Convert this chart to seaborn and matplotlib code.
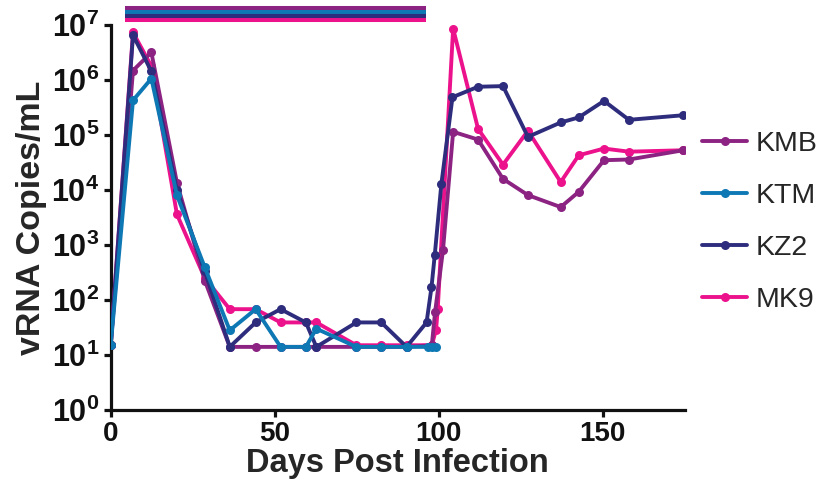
import pandas as pd
import matplotlib
matplotlib.use('Agg')
import matplotlib.pyplot as plt
import seaborn as sns

# ART window (days post infection)
art_start, art_end = 4.3, 96

animals = ['KMB', 'KTM', 'KZ2', 'MK9']
colors = {'KMB': '#8c2382', 'KTM': '#0e78b4', 'KZ2': '#2e2d7d', 'MK9': '#ec128c'}

kmb_days = [0, 6.8, 12.4, 20.2, 28.7, 36.3, 44.2, 51.8, 59.5, 62.7, 74.9, 82.5, 90.2,
            97.9, 98.9, 101.3, 104.4, 112, 119.6, 127.2, 137.2, 142.7, 150.4, 158, 174.5]
kmb_vl = [15, 1.5e6, 3.2e6, 1.35e4, 225, 14, 14, 14, 14, 14, 14, 14, 14, 15, 60, 800,
          1.15e5, 8.3e4, 1.6e4, 8.1e3, 4.9e3, 9.3e3, 3.5e4, 3.6e4, 5.3e4]

ktm_days = [0, 6.8, 12.4, 20.2, 28.7, 36.3, 44.2, 51.8, 59.5, 62.7, 74.9, 82.5, 90.2,
            96.7, 97.9, 99.3]
ktm_vl = [15, 4.3e5, 1.07e6, 8e3, 390, 28, 68, 14, 14, 30, 14, 14, 14, 14, 14, 14]

kz2_days = [0, 6.8, 12.4, 20.2, 28.7, 36.3, 44.2, 51.8, 59.5, 62.7, 74.9, 82.5, 90.2,
            96.3, 97.8, 98.8, 100.8, 104.2, 112, 119.6, 127.2, 137.2, 142.7, 150.4, 158, 174.5]
kz2_vl = [15, 6.6e6, 1.45e6, 1e4, 330, 14, 39, 68, 39, 14, 39, 39, 14, 39, 170, 660, 1.27e4,
          4.9e5, 7.6e5, 7.8e5, 9.3e4, 1.7e5, 2.1e5, 4.2e5, 1.9e5, 2.3e5]

mk9_days = [0, 6.8, 12.4, 20.2, 28.7, 36.3, 44.2, 51.8, 59.5, 62.7, 74.9, 82.5, 90.2,
            97.9, 99.2, 99.7, 104.4, 112, 119.6, 127.2, 137.2, 142.7, 150.4, 158, 174.5]
mk9_vl = [15, 7.4e6, 1.8e6, 3.6e3, 250, 68, 68, 39, 39, 39, 15, 15, 15, 15, 29, 68,
          8.7e6, 1.3e5, 2.9e4, 1.2e5, 1.4e4, 4.3e4, 5.7e4, 5e4, 5.3e4]

x_ticks = [0, 50, 100, 150]
y_exps = [0, 1, 2, 3, 4, 5, 6, 7]


def main():
    frames = []
    for name, d, v in [('KMB', kmb_days, kmb_vl), ('KTM', ktm_days, ktm_vl),
                       ('KZ2', kz2_days, kz2_vl), ('MK9', mk9_days, mk9_vl)]:
        frames.append(pd.DataFrame({'day': d, 'vl': v, 'animal': name}))
    df = pd.concat(frames, ignore_index=True)

    sns.set_style('ticks')
    plt.rcParams['font.family'] = ['Liberation Sans', 'DejaVu Sans']
    plt.rcParams['mathtext.fontset'] = 'custom'
    plt.rcParams['mathtext.rm'] = 'Liberation Sans'
    plt.rcParams['mathtext.bf'] = 'Liberation Sans:bold'

    fig = plt.figure(figsize=(8.2, 4.95), dpi=100)
    ax = fig.add_axes([0.135, 0.172, 0.7, 0.777])

    # draw order so the blue line sits on top
    for z, name in enumerate(['MK9', 'KMB', 'KZ2', 'KTM']):
        sub = df[df['animal'] == name]
        sns.lineplot(data=sub, x='day', y='vl', ax=ax, color=colors[name],
                     marker='o', markersize=6.5, markeredgewidth=0, lw=2.8,
                     estimator=None, sort=False, label=name, zorder=3 + z)

    ax.set_yscale('log')
    ax.set_xlim(0, 175)
    ax.set_ylim(1, 1e7)
    ax.set_xticks(x_ticks)
    ax.set_xticklabels([str(t) for t in x_ticks], fontsize=20, fontweight='bold')
    ax.set_yticks([10.0 ** e for e in y_exps])
    ax.set_yticklabels([r'$\mathbf{10^{%d}}$' % e for e in y_exps], fontsize=22)
    ax.yaxis.set_minor_locator(matplotlib.ticker.NullLocator())
    ax.set_xlabel('Days Post Infection', fontsize=23.5, fontweight='bold', labelpad=1)
    ax.set_ylabel('vRNA Copies/mL', fontsize=24.5, fontweight='bold', labelpad=3)

    sns.despine(ax=ax)
    for s in ['left', 'bottom']:
        ax.spines[s].set_linewidth(2.3)
        ax.spines[s].set_color('#111111')
    ax.tick_params(width=2.3, length=5, color='#111111', labelcolor='#111111', pad=3)

    # ART bar above the plot, one stripe per animal
    trans = ax.get_xaxis_transform()
    for name, yf in zip(animals, [1.044, 1.034, 1.023, 1.013]):
        ax.plot([art_start, art_end], [yf, yf], color=colors[name], lw=2.9,
                solid_capstyle='butt', transform=trans, clip_on=False)

    h, l = ax.get_legend_handles_labels()
    lookup = dict(zip(l, h))
    ax.legend([lookup[a] for a in animals], animals, loc='center left',
              bbox_to_anchor=(1.005, 0.488), frameon=False, fontsize=20.5,
              handlelength=1.6, handletextpad=0.3, labelspacing=0.92, borderpad=0)

    fig.savefig('out.png', dpi=100)


if __name__ == "__main__":
    main()
